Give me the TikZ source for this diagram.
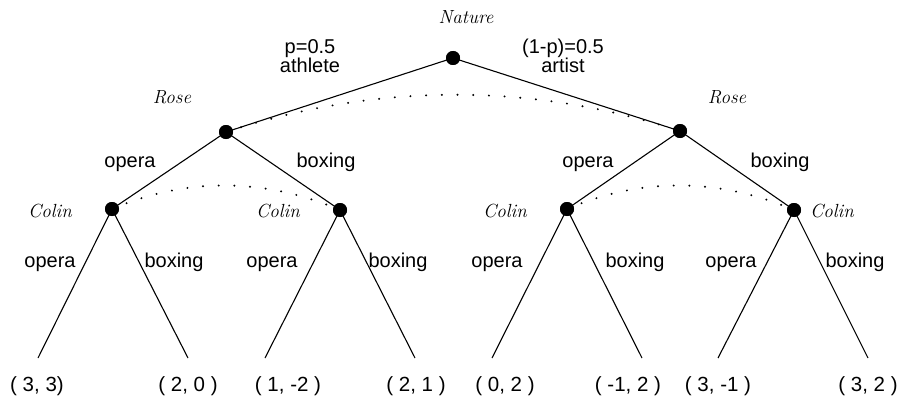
\documentclass[tikz,border=0pt]{standalone}
\usepackage{fontspec}
\setmainfont{Liberation Sans}
\newfontfamily\scriptnm{Latin Modern Roman}
\begin{document}
\begin{tikzpicture}[x=1pt,y=-1pt,
  dot/.style={circle,fill=black,inner sep=0pt,minimum size=14pt},
  edge/.style={line width=1.1pt},
  infoset/.style={line width=2.2pt,line cap=round,dash pattern=on 0pt off 15.7pt},
  lbl/.style={font=\fontsize{20}{22}\selectfont,inner sep=0pt,anchor=base},
  who/.style={font=\scriptnm\itshape\fontsize{19}{20}\selectfont,inner sep=0pt},
  leaf/.style={font=\fontsize{20.5}{22}\selectfont,inner sep=0pt,anchor=base}]
\useasboundingbox (0,0) rectangle (902,404);
% decision nodes
\node[dot] (n) at (453,58) {};
\node[dot] (r1) at (226,132) {};
\node[dot] (r2) at (680,131) {};
\node[dot] (c1) at (112,209) {};
\node[dot] (c2) at (340,210) {};
\node[dot] (c3) at (567,209) {};
\node[dot] (c4) at (794,210) {};
% leaf ends
\coordinate (l1) at (38,358);
\coordinate (l2) at (188,358);
\coordinate (l3) at (265,358);
\coordinate (l4) at (415,358);
\coordinate (l5) at (492,358);
\coordinate (l6) at (642,358);
\coordinate (l7) at (718,358);
\coordinate (l8) at (868,358);
% edges
\draw[edge] (n.center) -- (r1.center);
\draw[edge] (n.center) -- (r2.center);
\draw[edge] (r1.center) -- (c1.center);
\draw[edge] (r1.center) -- (c2.center);
\draw[edge] (r2.center) -- (c3.center);
\draw[edge] (r2.center) -- (c4.center);
\draw[edge] (c1.center) -- (l1);
\draw[edge] (c1.center) -- (l2);
\draw[edge] (c2.center) -- (l3);
\draw[edge] (c2.center) -- (l4);
\draw[edge] (c3.center) -- (l5);
\draw[edge] (c3.center) -- (l6);
\draw[edge] (c4.center) -- (l7);
\draw[edge] (c4.center) -- (l8);
% redraw dots on top
\foreach \d in {n,r1,r2,c1,c2,c3,c4} {\fill (\d) circle (7pt);}
% information sets
\draw[infoset] (r1.center) .. controls +(150,-49) and +(-150,-49) .. (r2.center);
\draw[infoset] (c1.center) .. controls +(75,-32) and +(-75,-32) .. (c2.center);
\draw[infoset] (c3.center) .. controls +(75,-32) and +(-75,-32) .. (c4.center);
% player names
\node[who] (tn) at (466,17) {Nature};
\node[who] (tr1) at (172,97) {Rose};
\node[who] (tr2) at (727,97) {Rose};
\node[who] (tc1) at (50,211) {Colin};
\node[who] (tc2) at (278,211) {Colin};
\node[who] (tc3) at (505,211) {Colin};
\node[who] (tc4) at (832,211) {Colin};
% nature labels
\node[lbl] (pa1) at (310,53) {p=0.5};
\node[lbl] (pa2) at (310,73) {athlete};
\node[lbl] (pb1) at (563,53) {(1-p)=0.5};
\node[lbl] (pb2) at (563,73) {artist};
% rose labels
\node[lbl] (e1) at (130,167) {opera};
\node[lbl] (e2) at (326,167) {boxing};
\node[lbl] (e3) at (588,167) {opera};
\node[lbl] (e4) at (780,167) {boxing};
% colin labels
\node[lbl] (f1) at (50,267) {opera};
\node[lbl] (f2) at (174,267) {boxing};
\node[lbl] (f3) at (272,267) {opera};
\node[lbl] (f4) at (398,267) {boxing};
\node[lbl] (f5) at (497,267) {opera};
\node[lbl] (f6) at (635,267) {boxing};
\node[lbl] (f7) at (731,267) {opera};
\node[lbl] (f8) at (855,267) {boxing};
% payoffs
\node[leaf] (p1) at (37,391) {( 3, 3)};
\node[leaf] (p2) at (188,391) {( 2, 0 )};
\node[leaf] (p3) at (288,391) {( 1, -2 )};
\node[leaf] (p4) at (416,391) {( 2, 1 )};
\node[leaf] (p5) at (505,391) {( 0, 2 )};
\node[leaf] (p6) at (628,391) {( -1, 2 )};
\node[leaf] (p7) at (718,391) {( 3, -1 )};
\node[leaf] (p8) at (868,391) {( 3, 2 )};
\end{tikzpicture}
\end{document}
